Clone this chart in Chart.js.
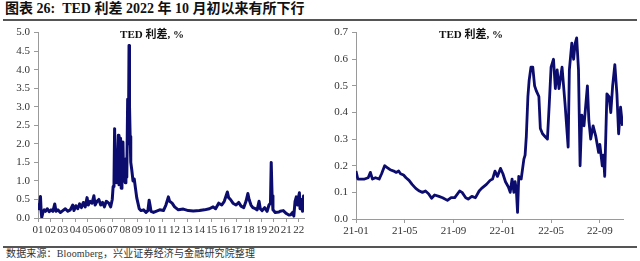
<!DOCTYPE html>
<html>
<head>
<meta charset="utf-8">
<script src="https://cdn.jsdelivr.net/npm/chart.js@4.4.0/dist/chart.umd.min.js"></script>
<style>
  body { margin: 0; width: 640px; height: 261px; background: #fff; position: relative; overflow: hidden;
         font-family: "Liberation Serif", "Noto Sans CJK SC", serif; }
  #title { position: absolute; left: 5px; top: 0px; font-size: 14px; font-weight: bold; line-height: 18px; color: #111; white-space: nowrap; }
  .rule { position: absolute; left: 3px; width: 634px; height: 2px; background: #555; }
  #foot { position: absolute; left: 6px; top: 248px; font-size: 10px; line-height: 12px; color: #333; white-space: nowrap; letter-spacing: 0.15px; }
  .box { position: absolute; top: 22px; width: 318px; height: 222px; }
  .ctitle { position: absolute; top: 25px; font-size: 11px; font-weight: bold; color: #111; white-space: nowrap; transform: translateX(-50%); }
</style>
</head>
<body>
<div id="title">图表 26:&nbsp; TED 利差 2022 年 10 月初以来有所下行</div>
<div class="rule" style="top:19px"></div>
<div class="box" style="left:0"><canvas id="leftChart" width="318" height="222"></canvas></div>
<div class="box" style="left:320px"><canvas id="rightChart" width="318" height="222"></canvas></div>
<div class="ctitle" style="left:152px">TED 利差, %</div>
<div class="ctitle" style="left:471px">TED 利差, %</div>
<div class="rule" style="top:246px"></div>
<div id="foot">数据来源：Bloomberg，兴业证券经济与金融研究院整理</div>
<script>
"use strict";

// left chart: 2001-2022, x in decimal years
const leftYears = [
  2001.5, 2001.6, 2001.7, 2001.75, 2001.8, 2001.9, 2002.0, 2002.1, 2002.25, 2002.4,
  2002.55, 2002.7, 2002.85, 2002.95, 2003.1, 2003.3, 2003.5, 2003.7, 2003.9, 2004.1,
  2004.3, 2004.4, 2004.55, 2004.7, 2004.85, 2005.0, 2005.15, 2005.3, 2005.45, 2005.55,
  2005.7, 2005.85, 2006.0, 2006.1, 2006.25, 2006.4, 2006.55, 2006.7, 2006.85, 2007.0,
  2007.2, 2007.35, 2007.48, 2007.55, 2007.62, 2007.67, 2007.72, 2007.77, 2007.82, 2007.9,
  2007.97, 2008.02, 2008.08, 2008.15, 2008.2, 2008.26, 2008.34, 2008.4, 2008.46, 2008.52,
  2008.58, 2008.65, 2008.72, 2008.78, 2008.83, 2008.87, 2008.92, 2008.97, 2009.05, 2009.15,
  2009.25, 2009.35, 2009.45, 2009.55, 2009.65, 2009.8, 2010.0, 2010.2, 2010.35, 2010.45,
  2010.52, 2010.6, 2010.8, 2011.0, 2011.3, 2011.6, 2011.8, 2012.0, 2012.1, 2012.3,
  2012.5, 2012.8, 2013.2, 2013.6, 2014.0, 2014.5, 2014.9, 2015.3, 2015.6, 2015.8,
  2016.05, 2016.3, 2016.5, 2016.75, 2016.85, 2017.0, 2017.2, 2017.45, 2017.67, 2017.85,
  2018.07, 2018.25, 2018.4, 2018.5, 2018.65, 2018.8, 2019.0, 2019.15, 2019.3, 2019.4,
  2019.55, 2019.75, 2019.95, 2020.1, 2020.22, 2020.28, 2020.35, 2020.42, 2020.6, 2020.9,
  2021.0, 2021.25, 2021.5, 2021.7, 2021.85, 2022.0, 2022.1, 2022.2, 2022.3, 2022.4,
  2022.5, 2022.55, 2022.6, 2022.7, 2022.8, 2022.88, 2022.9
];
const leftValues = [
  0.40, 0.25, 0.58, 0.20, 0.02, 0.15, 0.22, 0.18, 0.25, 0.17,
  0.22, 0.18, 0.38, 0.18, 0.22, 0.15, 0.20, 0.25, 0.18, 0.22,
  0.35, 0.20, 0.33, 0.25, 0.38, 0.28, 0.42, 0.30, 0.55, 0.35,
  0.45, 0.40, 0.60, 0.35, 0.45, 0.50, 0.35, 0.42, 0.30, 0.45,
  0.40, 0.30, 0.50, 0.85, 1.00, 2.41, 1.20, 1.60, 0.95, 1.50,
  2.23, 0.90, 1.30, 2.15, 0.80, 1.40, 2.05, 1.00, 1.30, 0.95,
  1.60, 1.10, 3.20, 2.00, 4.65, 3.00, 2.20, 1.50, 1.30, 1.00,
  1.05, 0.80, 0.55, 0.40, 0.25, 0.20, 0.22, 0.15, 0.20, 0.48,
  0.35, 0.18, 0.15, 0.18, 0.22, 0.20, 0.35, 0.57, 0.45, 0.40,
  0.30, 0.22, 0.24, 0.20, 0.19, 0.20, 0.22, 0.25, 0.30, 0.25,
  0.40, 0.35, 0.45, 0.70, 0.55, 0.50, 0.40, 0.35, 0.42, 0.32,
  0.28, 0.45, 0.66, 0.50, 0.35, 0.28, 0.25, 0.22, 0.45, 0.25,
  0.20, 0.28, 0.18, 0.35, 0.40, 1.50, 0.60, 0.22, 0.15, 0.16,
  0.18, 0.20, 0.12, 0.08, 0.09, 0.15, 0.05, 0.45, 0.57, 0.35,
  0.60, 0.68, 0.25, 0.50, 0.18, 0.59, 0.38
];
const leftTickLabels = ["01", "02", "03", "04", "05", "06", "07", "08", "09", "10", "11",
  "12", "13", "14", "15", "16", "17", "18", "19", "20", "21", "22"];

// right chart: months since 2021-01
const rightMonths = [
  0, 0.15, 0.4, 0.7, 1.0, 1.18, 1.35, 1.6, 1.9, 2.1,
  2.35, 2.5, 2.8, 3.1, 3.3, 3.5, 3.65, 3.9, 4.1, 4.35,
  4.6, 4.9, 5.2, 5.45, 5.7, 5.95, 6.2, 6.45, 6.8, 7.1,
  7.5, 7.8, 8.1, 8.5, 8.7, 9.0, 9.2, 9.5, 9.8, 10.1,
  10.3, 10.7, 11.0, 11.2, 11.4, 11.6, 11.85, 12.05, 12.26, 12.5,
  12.65, 12.8, 12.95, 13.05, 13.15, 13.25, 13.35, 13.55, 13.77, 13.87,
  13.97, 14.1, 14.2, 14.35, 14.5, 14.65, 14.8, 15.0, 15.12, 15.3,
  15.5, 15.7, 15.85, 16.0, 16.2, 16.35, 16.5, 16.65, 16.9, 17.15,
  17.4, 17.5, 17.7, 17.85, 17.98, 18.1, 18.25, 18.38, 18.52, 18.7,
  18.98, 19.1, 19.25, 19.45, 19.67, 19.9, 20.0, 20.2, 20.3, 20.4,
  20.58, 20.75, 20.9, 21.05, 21.23, 21.4, 21.54, 21.7, 21.86
];
const rightValues = [
  0.18, 0.15, 0.15, 0.15, 0.155, 0.175, 0.15, 0.155, 0.15, 0.17,
  0.20, 0.195, 0.185, 0.18, 0.175, 0.18, 0.17, 0.165, 0.155, 0.145,
  0.13, 0.115, 0.105, 0.10, 0.105, 0.095, 0.078, 0.09, 0.085, 0.08,
  0.07, 0.08, 0.08, 0.105, 0.10, 0.08, 0.075, 0.085, 0.08, 0.105,
  0.115, 0.13, 0.145, 0.15, 0.18, 0.16, 0.19, 0.17, 0.14, 0.12,
  0.10, 0.15, 0.10, 0.14, 0.11, 0.025, 0.16, 0.15, 0.225, 0.24,
  0.31, 0.46, 0.52, 0.57, 0.57, 0.50, 0.48, 0.46, 0.34, 0.32,
  0.31, 0.30, 0.43, 0.57, 0.60, 0.49, 0.56, 0.49, 0.57, 0.43,
  0.27, 0.56, 0.66, 0.60, 0.66, 0.68, 0.56, 0.20, 0.39, 0.35,
  0.50, 0.37, 0.30, 0.35, 0.31, 0.25, 0.28, 0.20, 0.24, 0.16,
  0.47, 0.46, 0.40, 0.50, 0.58, 0.47, 0.32, 0.42, 0.35
];
const rightTickMonths = [0, 4, 8, 12, 16, 20];
const rightTickLabels = ["21-01", "21-05", "21-09", "22-01", "22-05", "22-09"];

const lineColor = "#0c0c6e";
const axisColor = "#9a9a9a";
const tickFont = { family: "Liberation Serif", size: 11 };

function makeChart(id, xs, ys, opts) {
  const points = xs.map(function (x, i) { return { x: x, y: ys[i] }; });
  return new Chart(document.getElementById(id), {
    type: "line",
    data: {
      datasets: [{
        data: points,
        borderColor: lineColor,
        borderWidth: opts.lineWidth,
        borderJoinStyle: "round",
        pointRadius: 0,
        tension: 0,
      }],
    },
    options: {
      responsive: false,
      animation: false,
      layout: { padding: { top: opts.padTop, right: opts.padRight, left: 0, bottom: 0 } },
      plugins: { legend: { display: false }, tooltip: { enabled: false } },
      scales: {
        x: {
          type: "linear",
          min: opts.xMin,
          max: opts.xMax,
          afterBuildTicks: function (scale) {
            scale.ticks = opts.tickPos.map(function (v) { return { value: v }; });
          },
          afterFit: function (scale) { scale.height = opts.xHeight; },
          ticks: {
            autoSkip: false,
            maxRotation: 0,
            padding: 2,
            color: "#333",
            font: tickFont,
            callback: function (value, index) { return opts.tickLabels[index]; },
          },
          grid: { drawOnChartArea: false, color: axisColor, tickLength: 4 },
          border: { color: axisColor, width: 1 },
        },
        y: {
          min: 0,
          max: opts.yMax,
          afterFit: function (scale) { scale.width = opts.yWidth; },
          ticks: {
            stepSize: opts.yStep,
            padding: 4,
            color: "#333",
            font: tickFont,
            callback: function (value) { return value.toFixed(1); },
          },
          grid: { drawOnChartArea: false, color: axisColor, tickLength: 4 },
          border: { color: axisColor, width: 1 },
        },
      },
    },
  });
}

makeChart("leftChart", leftYears, leftValues, {
  lineWidth: 3,
  padTop: 10,
  padRight: 14,
  xMin: 2001.5,
  xMax: 2022.92,
  tickPos: leftTickLabels.map(function (s, i) { return 2001.5 + i; }),
  tickLabels: leftTickLabels,
  xHeight: 26,
  yMax: 5.0,
  yStep: 0.5,
  yWidth: 38,
});

makeChart("rightChart", rightMonths, rightValues, {
  lineWidth: 2.8,
  padTop: 8,
  padRight: 15,
  xMin: 0,
  xMax: 21.9,
  tickPos: rightTickMonths,
  tickLabels: rightTickLabels,
  xHeight: 25,
  yMax: 0.7,
  yStep: 0.1,
  yWidth: 36,
});
</script>
</body>
</html>
